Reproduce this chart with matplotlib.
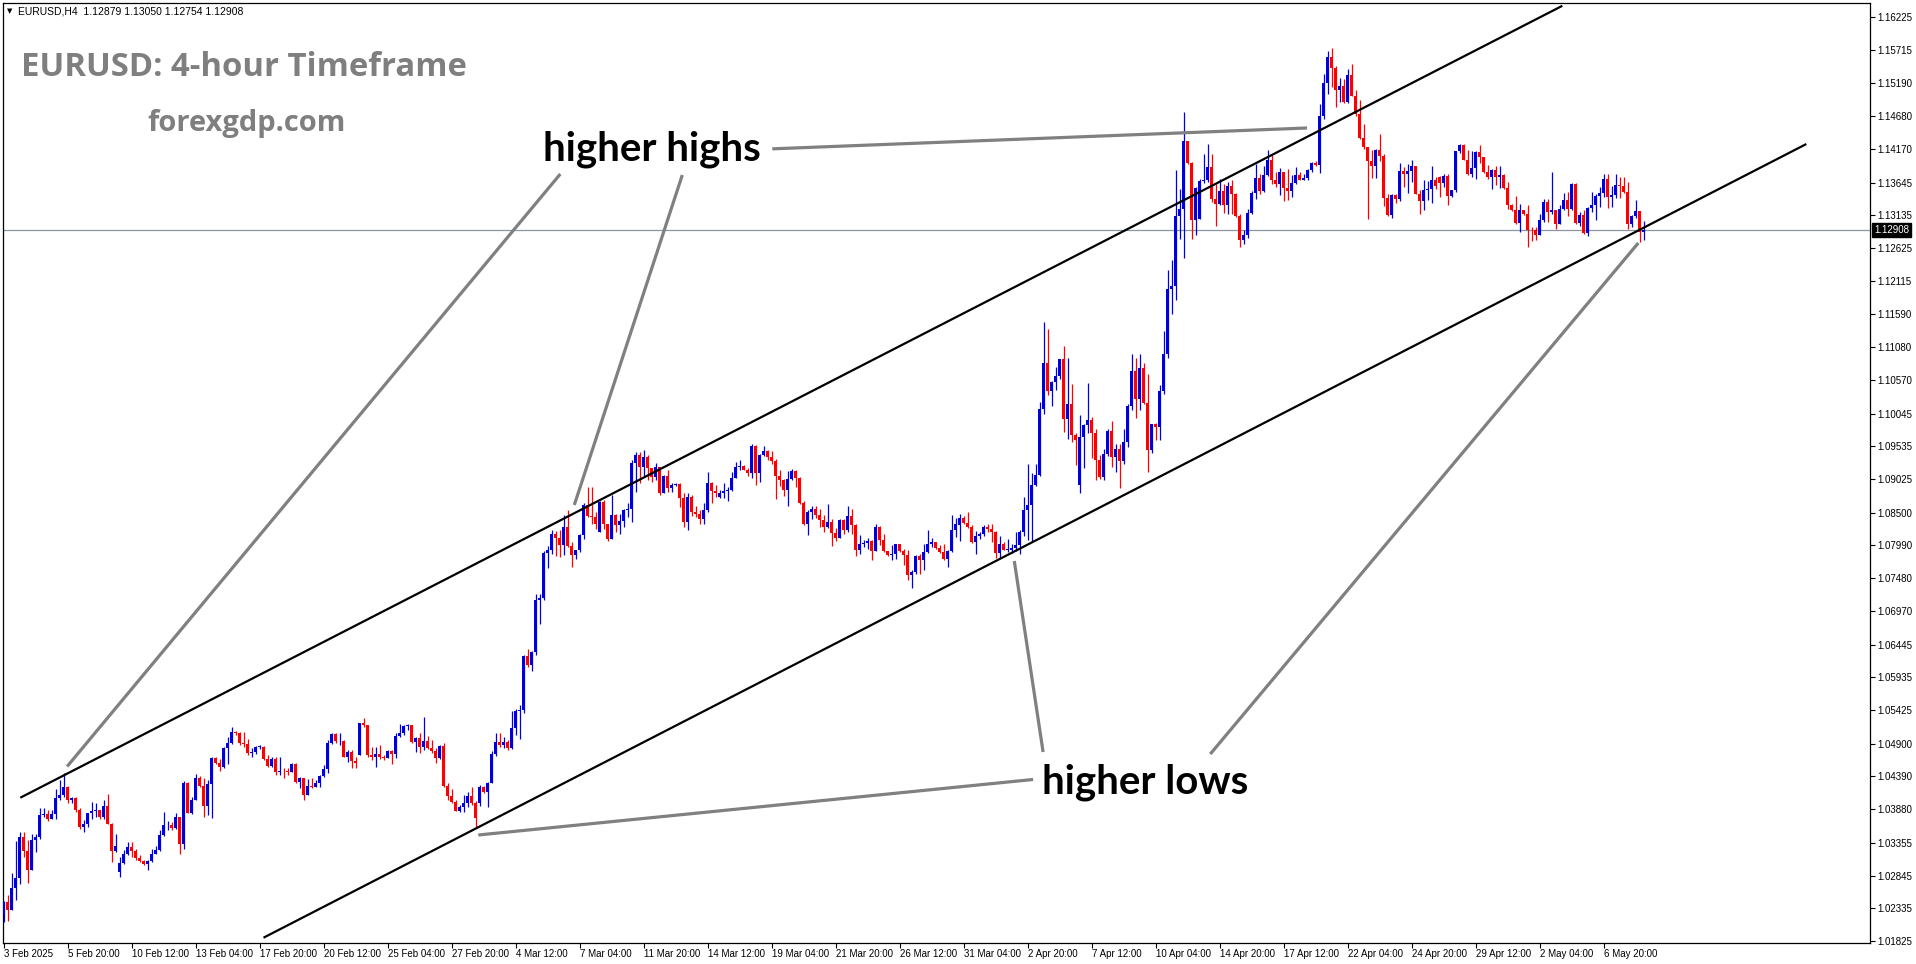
import matplotlib
matplotlib.use("Agg")
import matplotlib.pyplot as plt

# ---------------- data (EURUSD H4, candle 1 = 3 Feb 2025 04:00) ----------------
closes = [
1.02434, 1.02304, 1.02658, 1.02814, 1.03448, 1.03230, 1.02928, 1.03406, 1.03448, 1.03786,
1.03802, 1.03734, 1.03802, 1.04056, 1.04098, 1.04218, 1.04020, 1.04056, 1.03864, 1.03594,
1.03646, 1.03812, 1.03848, 1.03864, 1.03750, 1.03926, 1.03646, 1.03224, 1.03308, 1.03048,
1.03178, 1.03292, 1.03230, 1.03126, 1.03074, 1.03022, 1.03074, 1.03188, 1.03240, 1.03474,
1.03630, 1.03640, 1.03588, 1.03760, 1.03334, 1.04290, 1.03822, 1.04030, 1.04358, 1.04244,
1.03932, 1.04264, 1.04680, 1.04592, 1.04540, 1.04826, 1.04914, 1.05086, 1.05070, 1.04904,
1.04894, 1.04758, 1.04774, 1.04852, 1.04852, 1.04654, 1.04550, 1.04654, 1.04462, 1.04472,
1.04467, 1.04457, 1.04582, 1.04296, 1.04358, 1.04098, 1.04238, 1.04228, 1.04290, 1.04394,
1.04498, 1.04904, 1.05044, 1.04940, 1.04940, 1.04696, 1.04774, 1.04628, 1.04592, 1.05216,
1.05185, 1.04722, 1.04686, 1.04738, 1.04686, 1.04670, 1.04784, 1.04732, 1.05018, 1.05060,
1.05174, 1.05190, 1.04930, 1.04982, 1.04852, 1.04940, 1.04826, 1.04790, 1.04670, 1.04862,
1.04238, 1.04082, 1.03994, 1.03854, 1.03916, 1.03968, 1.04082, 1.03968, 1.03744, 1.04218,
1.04150, 1.04290, 1.04738, 1.04925, 1.04878, 1.04925, 1.04826, 1.05138, 1.05414, 1.05419,
1.06261, 1.06121, 1.06329, 1.07135, 1.07171, 1.07873, 1.07915, 1.08165, 1.08113, 1.07993,
1.08269, 1.07977, 1.07837, 1.07915, 1.08149, 1.08627, 1.08451, 1.08435, 1.08321, 1.08669,
1.08321, 1.08097, 1.08461, 1.08305, 1.08367, 1.08539, 1.08555, 1.09267, 1.09397, 1.09215,
1.09371, 1.09189, 1.09059, 1.09215, 1.08799, 1.09069, 1.08877, 1.08929, 1.08945, 1.08721,
1.08357, 1.08747, 1.08513, 1.08477, 1.08409, 1.08549, 1.08965, 1.08841, 1.08809, 1.08809,
1.08841, 1.08851, 1.09033, 1.09215, 1.09225, 1.09172, 1.09120, 1.09542, 1.09120, 1.09406,
1.09458, 1.09370, 1.09308, 1.09074, 1.09006, 1.08850, 1.09032, 1.09152, 1.09048, 1.08652,
1.08330, 1.08512, 1.08554, 1.08460, 1.08392, 1.08278, 1.08356, 1.08184, 1.08112, 1.08392,
1.08226, 1.08444, 1.08304, 1.07914, 1.08018, 1.08028, 1.08060, 1.07904, 1.08278, 1.08070,
1.07904, 1.07836, 1.07852, 1.08008, 1.07904, 1.07836, 1.07524, 1.07576, 1.07820, 1.07758,
1.07888, 1.08008, 1.08044, 1.07956, 1.07888, 1.07784, 1.07904, 1.08226, 1.08320, 1.08424,
1.08340, 1.08278, 1.08044, 1.08132, 1.08164, 1.08278, 1.08252, 1.08200, 1.07872, 1.08008,
1.07924, 1.07924, 1.07956, 1.07992, 1.08200, 1.08538, 1.08616, 1.08928, 1.09084, 1.10111,
1.10833, 1.10391, 1.10537, 1.10625, 1.10891, 1.09955, 1.10199, 1.09715, 1.09637, 1.09679,
1.09871, 1.09939, 1.09747, 1.09325, 1.09055, 1.09409, 1.09767, 1.09367, 1.09497, 1.09305,
1.09601, 1.10163, 1.10703, 1.10267, 1.10761, 1.10209, 1.09471, 1.09877, 1.09835, 1.10391,
1.10979, 1.11979, 1.12025, 1.13117, 1.13237, 1.14287, 1.13950, 1.13055, 1.13565, 1.13663,
1.13689, 1.13887, 1.13383, 1.13305, 1.13507, 1.13289, 1.13591, 1.13461, 1.13117, 1.12743,
1.12821, 1.13175, 1.13481, 1.13715, 1.13507, 1.13757, 1.14001, 1.13689, 1.13617, 1.13809,
1.13559, 1.13507, 1.13643, 1.13767, 1.13689, 1.13721, 1.13835, 1.13949, 1.13923, 1.14677,
1.15197, 1.15602, 1.15436, 1.15082, 1.15144, 1.14900, 1.15316, 1.14994, 1.14708, 1.14344,
1.14198, 1.13980, 1.13896, 1.14146, 1.14058, 1.13408, 1.13132, 1.13444, 1.13392, 1.13818,
1.13772, 1.13818, 1.13896, 1.13470, 1.13356, 1.13522, 1.13538, 1.13688, 1.13584, 1.13636,
1.13740, 1.13434, 1.13522, 1.14130, 1.14224, 1.14000, 1.13772, 1.13870, 1.14120, 1.14042,
1.13808, 1.13730, 1.13834, 1.13730, 1.13756, 1.13564, 1.13288, 1.13210, 1.13012, 1.13210,
1.13148, 1.12908, 1.12898, 1.12820, 1.13054, 1.13340, 1.13184, 1.13210, 1.12992, 1.13236,
1.13376, 1.13236, 1.13616, 1.13012, 1.13142, 1.12856, 1.13252, 1.13288, 1.13428, 1.13486,
1.13694, 1.13418, 1.13444, 1.13600, 1.13584, 1.13496, 1.12992, 1.13116, 1.13194, 1.12872,
1.12908]

highs = [
1.02444, 1.02548, 1.02886, 1.03380, 1.03526, 1.03526, 1.03396, 1.03500, 1.03500, 1.03900,
1.03900, 1.03874, 1.03874, 1.04186, 1.04332, 1.04436, 1.04244, 1.04072, 1.04062, 1.03890,
1.03708, 1.03822, 1.03994, 1.03978, 1.03864, 1.04020, 1.04114, 1.03666, 1.03500, 1.03136,
1.03240, 1.03370, 1.03370, 1.03266, 1.03162, 1.03094, 1.03084, 1.03256, 1.03302, 1.03552,
1.03838, 1.03692, 1.03682, 1.03812, 1.03760, 1.04316, 1.04306, 1.04062, 1.04426, 1.04400,
1.04358, 1.04332, 1.04696, 1.04696, 1.04654, 1.04852, 1.05008, 1.05154, 1.05102, 1.05086,
1.05086, 1.04966, 1.04826, 1.04862, 1.04878, 1.04862, 1.04722, 1.04696, 1.04696, 1.04696,
1.04514, 1.04514, 1.04602, 1.04592, 1.04384, 1.04358, 1.04348, 1.04358, 1.04332, 1.04410,
1.04566, 1.04956, 1.05070, 1.05070, 1.05070, 1.04956, 1.04800, 1.04800, 1.04696, 1.05226,
1.05294, 1.05190, 1.04852, 1.04852, 1.04878, 1.04722, 1.04800, 1.04800, 1.05060, 1.05206,
1.05190, 1.05206, 1.05190, 1.05008, 1.05060, 1.05320, 1.05018, 1.04956, 1.04826, 1.04878,
1.04904, 1.04280, 1.04186, 1.04030, 1.03942, 1.04098, 1.04150, 1.04218, 1.04004, 1.04254,
1.04238, 1.04306, 1.04790, 1.05060, 1.05060, 1.04998, 1.04956, 1.05414, 1.05434, 1.05497,
1.06277, 1.06381, 1.06339, 1.07229, 1.07239, 1.07905, 1.07977, 1.08227, 1.08217, 1.08237,
1.08461, 1.08549, 1.08045, 1.07925, 1.08175, 1.08643, 1.08893, 1.08893, 1.08513, 1.08685,
1.08695, 1.08331, 1.08773, 1.08487, 1.08487, 1.08565, 1.08643, 1.09319, 1.09449, 1.09449,
1.09475, 1.09397, 1.09163, 1.09267, 1.09189, 1.09085, 1.09163, 1.08955, 1.08965, 1.08955,
1.08799, 1.08799, 1.08773, 1.08601, 1.08539, 1.08643, 1.09137, 1.08981, 1.08929, 1.08851,
1.08955, 1.08903, 1.09137, 1.09293, 1.09319, 1.09240, 1.09204, 1.09568, 1.09552, 1.09422,
1.09542, 1.09474, 1.09464, 1.09344, 1.09172, 1.09032, 1.09152, 1.09188, 1.09172, 1.09058,
1.08684, 1.08548, 1.08600, 1.08600, 1.08564, 1.08460, 1.08632, 1.08408, 1.08268, 1.08408,
1.08408, 1.08600, 1.08564, 1.08330, 1.08148, 1.08070, 1.08106, 1.08070, 1.08320, 1.08288,
1.08174, 1.07904, 1.07992, 1.08018, 1.08018, 1.07940, 1.07914, 1.07602, 1.07836, 1.07852,
1.08018, 1.08226, 1.08112, 1.08028, 1.07992, 1.08018, 1.07914, 1.08460, 1.08424, 1.08486,
1.08444, 1.08512, 1.08304, 1.08216, 1.08200, 1.08304, 1.08320, 1.08320, 1.08210, 1.08132,
1.08044, 1.08096, 1.08018, 1.08200, 1.08226, 1.08746, 1.09256, 1.09120, 1.09266, 1.10225,
1.11473, 1.11359, 1.10553, 1.10771, 1.10901, 1.11093, 1.10911, 1.10501, 1.09741, 1.10017,
1.09887, 1.10521, 1.09991, 1.09809, 1.09393, 1.09497, 1.09809, 1.09923, 1.09575, 1.09565,
1.09809, 1.10189, 1.10979, 1.10911, 1.10979, 1.10833, 1.10667, 1.09887, 1.09897, 1.10485,
1.11333, 1.12285, 1.12431, 1.13845, 1.13549, 1.14745, 1.14287, 1.13965, 1.13575, 1.13705,
1.14095, 1.14251, 1.14085, 1.13627, 1.13705, 1.13627, 1.13653, 1.13679, 1.13481, 1.13149,
1.12909, 1.13227, 1.13513, 1.13929, 1.13783, 1.13897, 1.14147, 1.14085, 1.13809, 1.13877,
1.13809, 1.13861, 1.13757, 1.13887, 1.13809, 1.13773, 1.13861, 1.13965, 1.13981, 1.14875,
1.15343, 1.15696, 1.15748, 1.15456, 1.15280, 1.15264, 1.15420, 1.15498, 1.15082, 1.14936,
1.14552, 1.14198, 1.14156, 1.14172, 1.14406, 1.14084, 1.13460, 1.13470, 1.13470, 1.13948,
1.13886, 1.13938, 1.13990, 1.13896, 1.13522, 1.13688, 1.13668, 1.13896, 1.13730, 1.13740,
1.13782, 1.13782, 1.13532, 1.14136, 1.14250, 1.14250, 1.14156, 1.14136, 1.14136, 1.14224,
1.14042, 1.13912, 1.13860, 1.13896, 1.13896, 1.13772, 1.13652, 1.13314, 1.13428, 1.13314,
1.13220, 1.13288, 1.12950, 1.12950, 1.13158, 1.13392, 1.13392, 1.13808, 1.13220, 1.13288,
1.13480, 1.13496, 1.13636, 1.13636, 1.13184, 1.13210, 1.13262, 1.13496, 1.13470, 1.13574,
1.13772, 1.13772, 1.13584, 1.13782, 1.13730, 1.13730, 1.13652, 1.13132, 1.13376, 1.13194,
1.13050]

lows = [
1.02122, 1.02138, 1.02304, 1.02460, 1.02720, 1.03136, 1.02730, 1.02928, 1.03214, 1.03417,
1.03760, 1.03698, 1.03734, 1.03734, 1.04020, 1.04062, 1.03968, 1.03968, 1.03838, 1.03578,
1.03526, 1.03604, 1.03734, 1.03750, 1.03734, 1.03734, 1.03646, 1.03058, 1.03214, 1.02824,
1.03032, 1.03162, 1.03136, 1.03084, 1.03058, 1.03006, 1.02928, 1.03058, 1.03178, 1.03230,
1.03458, 1.03552, 1.03552, 1.03578, 1.03178, 1.03266, 1.03822, 1.03802, 1.04030, 1.04218,
1.03760, 1.03786, 1.03744, 1.04582, 1.04478, 1.04524, 1.04582, 1.04894, 1.05034, 1.04878,
1.04852, 1.04722, 1.04686, 1.04738, 1.04810, 1.04644, 1.04540, 1.04540, 1.04410, 1.04410,
1.04358, 1.04410, 1.04457, 1.04290, 1.04202, 1.04020, 1.04098, 1.04202, 1.04218, 1.04228,
1.04374, 1.04436, 1.04894, 1.04904, 1.04878, 1.04686, 1.04618, 1.04514, 1.04524, 1.04722,
1.05164, 1.04696, 1.04644, 1.04540, 1.04654, 1.04644, 1.04696, 1.04582, 1.04670, 1.05008,
1.05034, 1.05112, 1.04904, 1.04774, 1.04758, 1.04800, 1.04810, 1.04758, 1.04602, 1.04654,
1.04218, 1.04020, 1.03978, 1.03848, 1.03838, 1.03838, 1.03906, 1.03942, 1.03604, 1.03926,
1.04124, 1.03906, 1.04280, 1.04706, 1.04852, 1.04826, 1.04800, 1.04810, 1.05034, 1.04977,
1.05377, 1.06095, 1.06033, 1.06277, 1.06761, 1.07135, 1.07639, 1.07863, 1.07821, 1.07811,
1.07837, 1.07967, 1.07655, 1.07785, 1.07889, 1.08097, 1.08427, 1.08331, 1.08253, 1.08201,
1.08253, 1.08061, 1.08097, 1.08201, 1.08175, 1.08269, 1.08435, 1.08357, 1.08825, 1.08955,
1.09059, 1.09007, 1.08981, 1.09007, 1.08773, 1.08799, 1.08825, 1.08825, 1.08913, 1.08591,
1.08269, 1.08227, 1.08445, 1.08435, 1.08321, 1.08331, 1.08513, 1.08653, 1.08747, 1.08721,
1.08721, 1.08685, 1.08841, 1.09033, 1.09163, 1.09162, 1.09068, 1.09048, 1.08928, 1.08980,
1.09380, 1.09328, 1.09266, 1.08720, 1.08912, 1.08756, 1.08600, 1.09016, 1.08902, 1.08632,
1.08304, 1.08148, 1.08408, 1.08424, 1.08278, 1.08200, 1.08268, 1.07976, 1.08060, 1.08112,
1.08174, 1.08200, 1.08164, 1.07820, 1.07852, 1.07966, 1.07940, 1.07768, 1.07904, 1.07992,
1.07888, 1.07820, 1.07768, 1.07784, 1.07882, 1.07680, 1.07446, 1.07326, 1.07550, 1.07550,
1.07602, 1.07872, 1.07966, 1.07940, 1.07872, 1.07768, 1.07654, 1.07888, 1.08122, 1.08060,
1.08330, 1.08268, 1.08028, 1.07852, 1.08096, 1.08132, 1.08200, 1.08044, 1.07800, 1.07800,
1.07914, 1.07888, 1.07872, 1.07904, 1.07862, 1.08132, 1.08070, 1.08060, 1.08912, 1.09071,
1.10033, 1.10340, 1.10157, 1.10407, 1.10589, 1.09757, 1.09653, 1.09601, 1.09247, 1.08805,
1.09201, 1.09741, 1.09357, 1.09013, 1.09029, 1.09013, 1.09377, 1.09211, 1.09133, 1.08883,
1.09263, 1.09523, 1.10105, 1.09981, 1.10105, 1.10189, 1.09133, 1.09430, 1.09627, 1.09627,
1.10345, 1.10913, 1.11589, 1.11817, 1.12759, 1.12473, 1.13939, 1.12759, 1.12831, 1.13071,
1.13637, 1.13653, 1.13341, 1.12967, 1.13289, 1.13169, 1.13149, 1.13159, 1.13107, 1.12639,
1.12681, 1.12785, 1.13159, 1.13383, 1.13461, 1.13497, 1.13741, 1.13627, 1.13575, 1.13445,
1.13357, 1.13367, 1.13419, 1.13617, 1.13679, 1.13679, 1.13679, 1.13809, 1.13897, 1.13793,
1.14641, 1.15030, 1.15134, 1.14822, 1.14900, 1.14884, 1.14884, 1.14988, 1.14676, 1.14328,
1.14172, 1.13080, 1.13720, 1.13720, 1.13980, 1.13278, 1.13122, 1.13096, 1.13324, 1.13356,
1.13574, 1.13480, 1.13652, 1.13460, 1.13158, 1.13210, 1.13366, 1.13324, 1.13548, 1.13418,
1.13574, 1.13288, 1.13418, 1.13496, 1.14104, 1.13990, 1.13756, 1.13730, 1.13704, 1.13948,
1.13792, 1.13704, 1.13548, 1.13600, 1.13564, 1.13548, 1.13236, 1.13200, 1.13002, 1.12872,
1.13132, 1.12648, 1.12732, 1.12742, 1.12820, 1.13028, 1.13028, 1.13158, 1.12924, 1.12992,
1.13210, 1.13116, 1.13220, 1.12992, 1.12960, 1.12846, 1.12804, 1.13184, 1.13064, 1.13262,
1.13418, 1.13252, 1.13262, 1.13408, 1.13408, 1.13486, 1.12924, 1.12950, 1.13096, 1.12716,
1.12754]

# opens differ from previous close only at weekly gaps (candle number -> open)
gap_opens = {1: 1.02252, 30: 1.02902, 90: 1.04722, 120: 1.03968, 150: 1.08201,
             180: 1.08747, 210: 1.08112, 240: 1.08304, 270: 1.08935, 300: 1.13071,
             360: 1.13730, 411: 1.12879}

last_price = 1.12908
header = "EURUSD,H4  1.12879 1.13050 1.12754 1.12908"

price_ticks = [1.16225, 1.15715, 1.15190, 1.14680, 1.14170, 1.13645, 1.13135, 1.12625,
               1.12115, 1.11590, 1.11080, 1.10570, 1.10045, 1.09535, 1.09025, 1.08500,
               1.07990, 1.07480, 1.06970, 1.06445, 1.05935, 1.05425, 1.04900, 1.04390,
               1.03880, 1.03355, 1.02845, 1.02335, 1.01825]

time_tick_bars = [1, 17, 33, 49, 65, 81, 97, 113, 129, 145, 161, 177, 193, 209, 225,
                  241, 257, 273, 289, 305, 321, 337, 353, 369, 385, 401]
time_tick_labels = ["3 Feb 2025", "5 Feb 20:00", "10 Feb 12:00", "13 Feb 04:00",
                    "17 Feb 20:00", "20 Feb 12:00", "25 Feb 04:00", "27 Feb 20:00",
                    "4 Mar 12:00", "7 Mar 04:00", "11 Mar 20:00", "14 Mar 12:00",
                    "19 Mar 04:00", "21 Mar 20:00", "26 Mar 12:00", "31 Mar 04:00",
                    "2 Apr 20:00", "7 Apr 12:00", "10 Apr 04:00", "14 Apr 20:00",
                    "17 Apr 12:00", "22 Apr 04:00", "24 Apr 20:00", "29 Apr 12:00",
                    "2 May 04:00", "6 May 20:00"]

# channel lines (bar number, price)
upper_channel = [(5.2, 1.04058), (390.7, 1.16399)]
lower_channel = [(66.0, 1.01876), (451.7, 1.14245)]

# grey pointer lines (bar number, price)
pointer_lines = [
    [(140.2, 1.13778), (16.9, 1.04544)],
    [(170.7, 1.13762), (143.7, 1.08620)],
    [(193.2, 1.14170), (326.9, 1.14495)],
    [(119.7, 1.03477), (258.4, 1.04342)],
    [(253.7, 1.07747), (260.9, 1.04770)],
    [(409.7, 1.12703), (302.7, 1.04739)],
]

# ---------------- build candles ----------------
n = len(closes)
bars = list(range(1, n + 1))
opens = []
prev = None
for b, c in zip(bars, closes):
    o = gap_opens.get(b, prev)
    opens.append(o)
    prev = c
hi = [max(h, o, c) for h, o, c in zip(highs, opens, closes)]
lo = [min(l, o, c) for l, o, c in zip(lows, opens, closes)]

BULL = "#0000dd"
BEAR = "#ff0000"
cols = [BULL if c >= o else BEAR for o, c in zip(opens, closes)]

W, H = 1916, 964
fig = plt.figure(figsize=(W / 100, H / 100), dpi=100)
fig.patch.set_facecolor("white")
ax = fig.add_axes([2.5 / W, 21.5 / H, 1867.5 / W, 940 / H])
ax.set_facecolor("white")

ax.set_xlim(0.75, 0.75 + 1867.5 / 4)
ax.set_ylim(1.018016, 1.164506)

# wicks
ax.vlines(bars, lo, hi, colors=cols, linewidth=0.9, zorder=3)
# bodies
body_b = [min(o, c) for o, c in zip(opens, closes)]
body_h = [max(abs(c - o), 0.00005) for o, c in zip(opens, closes)]
ax.bar(bars, body_h, bottom=body_b, width=0.74, color=cols, linewidth=0, zorder=4)

# last price line
ax.axhline(last_price, color="#8a96a3", linewidth=0.9, zorder=2)

# channel
for seg in (upper_channel, lower_channel):
    ax.plot([p[0] for p in seg], [p[1] for p in seg], color="black", linewidth=1.6,
            solid_capstyle="butt", zorder=5)
# pointer lines
for seg in pointer_lines:
    ax.plot([p[0] for p in seg], [p[1] for p in seg], color="#808080", linewidth=2.3,
            solid_capstyle="butt", zorder=5)

# axes styling
for s in ax.spines.values():
    s.set_color("black")
    s.set_linewidth(0.9)
ax.yaxis.tick_right()
ax.set_yticks(price_ticks)
ax.set_yticklabels([f"{v:.5f}" for v in price_ticks])
ax.set_xticks(time_tick_bars)
ax.set_xticklabels(time_tick_labels)
ax.tick_params(axis="both", direction="out", length=3.5, width=0.8, color="black",
               labelsize=7, labelcolor="black", pad=1.5)
for lab in ax.get_xticklabels():
    lab.set_horizontalalignment("left")
    lab.set_fontfamily("Liberation Sans")
for lab in ax.get_yticklabels():
    lab.set_fontfamily("Liberation Sans")

# current price tag
ax.annotate(f"{last_price:.5f}", xy=(1.0, last_price), xycoords=("axes fraction", "data"),
            xytext=(4, 0), textcoords="offset pixels", ha="left", va="center",
            fontsize=7, family="Liberation Sans", color="white",
            bbox=dict(boxstyle="square,pad=0.2", facecolor="black", edgecolor="black"),
            annotation_clip=False, zorder=10)

# header
fig.text(7 / W, 1 - 11 / H, "\u25BC", fontsize=5, color="black", va="center", ha="left",
         family="DejaVu Sans")
fig.text(18 / W, 1 - 11 / H, header, fontsize=7.5, color="black", va="center", ha="left",
         family="Liberation Sans")

# titles
fig.text(21 / W, 1 - 68 / H, "EURUSD: 4-hour Timeframe", fontsize=23.7, fontweight="bold",
         color="#7f7f7f", family="Open Sans", va="center", ha="left")
fig.text(247 / W, 1 - 124 / H, "forexgdp.com", fontsize=21, fontweight="bold",
         color="#7f7f7f", family="Open Sans", va="center", ha="center")

fig.text(652 / W, 1 - 149 / H, "higher highs", fontsize=29, fontweight="bold",
         color="black", family="Lato", va="center", ha="center")
fig.text(1145 / W, 1 - 782 / H, "higher lows", fontsize=29, fontweight="bold",
         color="black", family="Lato", va="center", ha="center")

fig.savefig("out.png", dpi=100, facecolor="white")
